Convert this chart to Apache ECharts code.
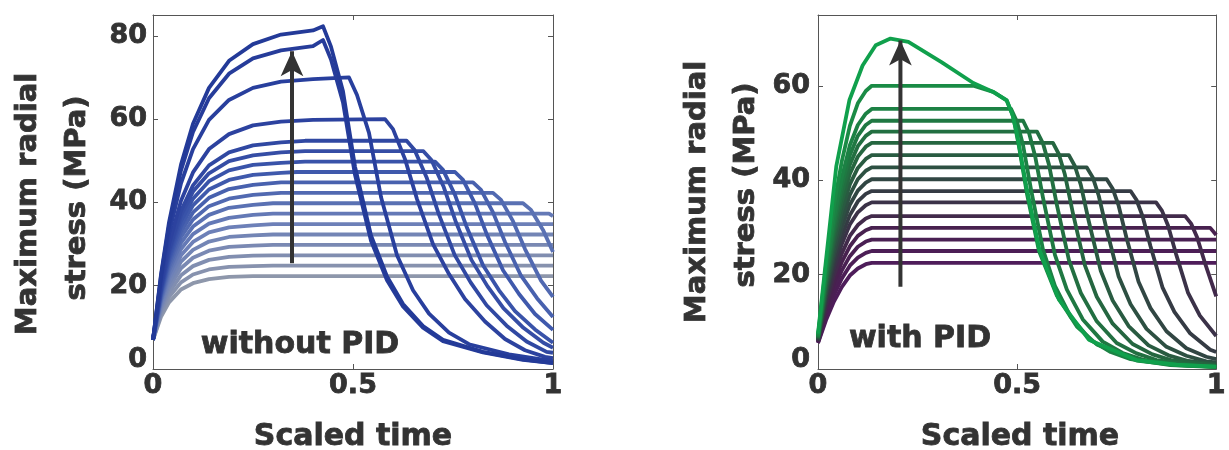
<!DOCTYPE html>
<html>
<head>
<meta charset="utf-8">
<title>Maximum radial stress</title>
<script src="https://cdn.jsdelivr.net/npm/echarts@6/dist/echarts.min.js"></script>
<style>
  html, body { margin: 0; padding: 0; background: #fff; }
  #chart { width: 1229px; height: 450px; }
</style>
</head>
<body>
<div id="chart"></div>
<script>
  // axis ranges (MPa / scaled time)
  const timeRange = [0, 1]
  const stressRangeWithout = [0, 85]
  const stressRangeWith = [0, 75]

  // without PID, lowest plateau first: [scaled time, stress]
  const withoutPid = [
    [[0,7],[.02,12.5],[.04,16.0],[.07,19.1],[.1,20.6],[.14,21.6],[.19,22.1],[.25,22.3],[1,22.3]],
    [[0,7],[.02,13.2],[.04,17.3],[.07,20.8],[.1,22.7],[.14,23.9],[.19,24.5],[.25,24.7],[.3,24.8],[1,24.8]],
    [[0,7],[.02,13.9],[.04,18.4],[.07,22.5],[.1,24.7],[.14,26.2],[.19,26.9],[.25,27.2],[.3,27.3],[1,27.3]],
    [[0,7],[.02,14.5],[.04,19.6],[.07,24.2],[.1,26.7],[.14,28.4],[.19,29.3],[.25,29.6],[.3,29.8],[1,29.8]],
    [[0,7],[.02,15.1],[.04,20.6],[.07,25.8],[.1,28.6],[.14,30.6],[.19,31.7],[.25,32.1],[.3,32.3],[1,32.3]],
    [[0,7],[.02,15.7],[.04,21.7],[.07,27.3],[.1,30.5],[.14,32.8],[.19,34.0],[.25,34.5],[.3,34.8],[1,34.8]],
    [[0,7],[.02,16.2],[.04,22.6],[.07,28.8],[.1,32.4],[.14,34.9],[.19,36.3],[.25,37.0],[.3,37.3],[.99,37.3],[1,36.7]],
    [[0,7],[.02,16.7],[.04,23.6],[.07,30.3],[.1,34.2],[.14,37.0],[.19,38.7],[.25,39.4],[.3,39.8],[.925,39.8],[.945,38.2],[.975,33.4],[1,28.1]],
    [[0,7],[.02,17.2],[.04,24.5],[.07,31.7],[.1,35.9],[.14,39.1],[.19,40.9],[.25,41.8],[.32,42.3],[.85,42.3],[.87,40.6],[.9,35.5],[.93,28.8],[.97,21.2],[1,17.3]],
    [[0,7],[.02,17.7],[.04,25.4],[.07,33.0],[.1,37.6],[.14,41.1],[.19,43.2],[.25,44.2],[.32,44.8],[.8,44.8],[.82,43.0],[.85,37.6],[.88,30.5],[.92,22.4],[.96,17.0],[1,12.5]],
    [[0,7],[.02,18.2],[.04,26.2],[.07,34.3],[.1,39.3],[.14,43.1],[.19,45.4],[.25,46.6],[.32,47.1],[.36,47.3],[.755,47.3],[.775,45.4],[.805,39.7],[.835,32.2],[.875,23.7],[.915,18.0],[.955,13.2],[1,9.4]],
    [[0,7],[.02,18.6],[.04,27.0],[.07,35.6],[.1,40.9],[.14,45.1],[.19,47.7],[.25,49.0],[.32,49.5],[.38,49.8],[.705,49.8],[.725,47.8],[.755,41.8],[.785,33.9],[.825,24.9],[.865,18.9],[.905,13.9],[.955,9.5],[1,6.3]],
    [[0,7],[.02,19.0],[.04,27.8],[.07,36.9],[.1,42.6],[.14,47.0],[.19,49.9],[.25,51.3],[.32,52.0],[.38,52.3],[.676,52.3],[.696,50.2],[.726,43.9],[.756,35.6],[.796,26.2],[.836,19.9],[.876,14.6],[.926,9.9],[.976,6.3],[1,5.1]],
    [[0,7],[.02,19.4],[.04,28.5],[.07,38.0],[.1,44.1],[.14,48.9],[.19,52.0],[.25,53.7],[.32,54.4],[.38,54.8],[.634,54.8],[.654,52.6],[.684,46.0],[.714,37.3],[.754,27.4],[.794,20.8],[.834,15.3],[.884,10.4],[.934,6.6],[.984,4.1],[1,3.9]],
    [[0,7],[.02,20.1],[.04,30.0],[.07,40.4],[.1,47.2],[.14,52.8],[.19,56.4],[.25,58.5],[.32,59.4],[.4,59.8],[.58,60],[.6,57.6],[.63,50.4],[.66,40.8],[.7,30.0],[.74,22.8],[.78,16.8],[.83,11.4],[.88,7.2],[.93,4.5],[.98,2.9],[1,2.6]],
    [[0,7],[.02,21.4],[.04,32.5],[.07,44.6],[.1,52.8],[.14,59.8],[.19,64.6],[.25,67.5],[.32,69.0],[.4,69.6],[.49,70],[.51,65.8],[.54,56.7],[.57,41.3],[.61,27.3],[.65,18.9],[.69,13.3],[.74,8.75],[.79,5.95],[.89,3.5],[1,1.9]],
    [[0,7],[.02,22.3],[.04,34.3],[.07,47.7],[.1,56.9],[.14,65.0],[.19,70.9],[.25,74.6],[.32,76.5],[.4,77.5],[.425,79],[.445,74.3],[.475,64],[.505,46.6],[.545,30.8],[.585,21.3],[.625,15.0],[.675,9.9],[.725,6.7],[.825,4.0],[.925,2.2],[1,1.4]],
    [[0,7],[.02,22.7],[.04,35.2],[.07,49.1],[.1,58.9],[.14,67.5],[.19,74.0],[.25,78.0],[.32,80.3],[.4,81.3],[.425,82.3],[.445,77.4],[.475,66.7],[.505,48.6],[.545,32.1],[.585,22.2],[.625,15.6],[.675,10.3],[.725,7.0],[.825,4.1],[.925,2.3],[1,1.4]]
  ]

  // with PID, lowest plateau first
  const withPid = [
    [[0,5.5],[.02,10.3],[.04,14.3],[.06,17.4],[.08,19.8],[.1,21.3],[.12,22.2],[.135,22.5],[1,22.5]],
    [[0,5.6],[.02,11.0],[.04,15.7],[.06,19.2],[.08,21.9],[.1,23.6],[.12,24.6],[.135,25.0],[1,25.0]],
    [[0,5.7],[.02,11.8],[.04,17.0],[.06,20.9],[.08,23.9],[.1,25.9],[.12,27.0],[.135,27.4],[1,27.4]],
    [[0,5.8],[.02,12.5],[.04,18.3],[.06,22.7],[.08,26.0],[.1,28.2],[.12,29.4],[.135,29.9],[.985,29.9],[1,28.4]],
    [[0,5.9],[.02,13.3],[.04,19.7],[.06,24.5],[.08,28.2],[.1,30.5],[.12,31.9],[.135,32.4],[.922,32.4],[.937,30.8],[.952,27.9],[.972,22.4],[1,15.4]],
    [[0,6.0],[.02,14.2],[.04,21.2],[.06,26.5],[.08,30.6],[.1,33.2],[.12,34.7],[.135,35.3],[.849,35.3],[.864,33.5],[.879,30.4],[.899,24.4],[.929,16.2],[.959,11.3],[1,7.0]],
    [[0,6.1],[.02,15.0],[.04,22.5],[.06,28.2],[.08,32.6],[.1,35.5],[.12,37.1],[.135,37.7],[.785,37.7],[.8,35.8],[.815,32.4],[.835,26.0],[.865,17.3],[.895,12.1],[.935,7.5],[.985,4.1],[1,3.6]],
    [[0,6.2],[.02,15.7],[.04,23.9],[.06,30.0],[.08,34.8],[.1,37.8],[.12,39.5],[.135,40.2],[.725,40.2],[.74,38.2],[.755,34.6],[.775,27.7],[.805,18.5],[.835,12.9],[.875,8.0],[.925,4.4],[.975,2.6],[1,2.1]],
    [[0,6.35],[.02,16.5],[.04,25.2],[.06,31.8],[.08,36.9],[.1,40.2],[.12,42.0],[.135,42.7],[.675,42.7],[.69,40.6],[.705,36.7],[.725,29.5],[.755,19.6],[.785,13.7],[.825,8.5],[.875,4.7],[.925,2.8],[.975,1.6],[1,1.4]],
    [[0,6.45],[.02,17.3],[.04,26.7],[.06,33.6],[.08,39.1],[.1,42.6],[.12,44.5],[.135,45.3],[.63,45.3],[.645,43.0],[.66,39.0],[.68,31.3],[.71,20.8],[.74,14.5],[.78,9.1],[.83,5.0],[.88,2.9],[.93,1.7],[1,1.0]],
    [[0,6.55],[.02,18.1],[.04,28.1],[.06,35.5],[.08,41.3],[.1,45.0],[.12,47.1],[.135,47.9],[.59,47.9],[.605,45.5],[.62,41.2],[.64,33.1],[.67,22.0],[.7,15.3],[.74,9.6],[.79,5.3],[.84,3.1],[.89,1.8],[1,.7]],
    [[0,6.65],[.02,18.9],[.04,29.4],[.06,37.2],[.08,43.3],[.1,47.2],[.12,49.4],[.135,50.3],[.55,50.3],[.565,47.8],[.58,43.3],[.6,34.7],[.63,23.1],[.66,16.1],[.7,10.1],[.75,5.5],[.8,3.3],[.85,1.9],[.95,.75],[1,.5]],
    [[0,6.75],[.02,19.6],[.04,30.6],[.06,38.9],[.08,45.3],[.1,49.4],[.12,51.7],[.135,52.6],[.515,52.6],[.53,50.0],[.545,45.2],[.565,36.3],[.595,24.2],[.625,16.8],[.665,10.5],[.715,5.8],[.765,3.4],[.815,2.0],[.915,.8],[1,.45]],
    [[0,6.9],[.02,20.4],[.04,32.0],[.06,40.6],[.08,47.4],[.1,51.7],[.12,54.1],[.135,55.1],[.485,55.1],[.5,52.3],[.515,47.4],[.535,38.0],[.565,25.3],[.595,17.6],[.635,11.0],[.685,6.1],[.735,3.6],[.785,2.1],[.885,.83],[1,.4]],
    [[0,7.1],[.02,21.9],[.04,34.6],[.06,44.1],[.08,51.5],[.1,56.3],[.12,58.9],[.135,60],[.39,60],[.44,58.7],[.474,56.9],[.49,53.5],[.505,47],[.525,37],[.555,25],[.6,15.5],[.65,9],[.7,5.2],[.8,1.8],[.9,.8],[1,.45]],
    [[0,7.5],[.02,23],[.046,43],[.079,57],[.112,64.3],[.145,68.6],[.182,70],[.227,69.3],[.31,65],[.39,60.6],[.44,58.7],[.474,56.9],[.488,54],[.499,50.1],[.523,38.8],[.556,25.3],[.605,14.7],[.68,6.2],[.8,1.9],[.9,.9],[1,.5]]
  ]

  // arrows: tail, shaft end (head sits on top)
  const arrowWithout = [[0.3475, 25.4], [0.3475, 76.3]]
  const arrowWith = [[0.207, 17.4], [0.207, 69.6]]

  const FONT = "'DejaVu Sans', sans-serif"
  const TXT = '#333333'
  const AXIS = '#555555'

  function hexToRgb(h) {
    return [1, 3, 5].map(i => parseInt(h.slice(i, i + 2), 16))
  }

  function pickColor(stops, t) {
    for (let i = 1; i < stops.length; i++) {
      if (t <= stops[i][0]) {
        const a = hexToRgb(stops[i - 1][1]), b = hexToRgb(stops[i][1])
        const k = (t - stops[i - 1][0]) / (stops[i][0] - stops[i - 1][0])
        const c = a.map((v, j) => Math.round(v + (b[j] - v) * k))
        return 'rgb(' + c.join(',') + ')'
      }
    }
    return stops[stops.length - 1][1]
  }

  const blueStops = [[0, '#8e97ab'], [0.3, '#6c80b8'], [0.6, '#3d57ab'], [0.85, '#2a409e'], [1, '#233a98']]
  const greenStops = [[0, '#4e1d5a'], [0.2, '#48214f'], [0.4, '#353b44'], [0.7, '#236b40'], [0.93, '#1a8a45'], [1, '#10a04c']]

  // a thin outline of the same colour makes the bold face a bit heavier
  const labelStyle = {fontSize: 27, fontWeight: 'bold', fontFamily: FONT, color: TXT, textBorderColor: TXT, textBorderWidth: 0.8}

  function xAxes(g) {
    const base = {
      gridIndex: g, type: 'value', min: timeRange[0], max: timeRange[1], interval: 0.5,
      axisLine: {show: true, onZero: false, lineStyle: {color: AXIS, width: 1}},
      axisTick: {show: true, inside: true, length: 5, lineStyle: {color: AXIS}},
      splitLine: {show: false}
    }
    return [
      Object.assign({}, base, {position: 'bottom', axisLabel: Object.assign({margin: 3}, labelStyle)}),
      Object.assign({}, base, {position: 'top', axisLabel: {show: false}})
    ]
  }

  function yAxes(g, range, margin) {
    const base = {
      gridIndex: g, type: 'value', min: range[0], max: range[1], interval: 20,
      axisLine: {show: true, onZero: false, lineStyle: {color: AXIS, width: 1}},
      axisTick: {show: true, inside: true, length: 5, lineStyle: {color: AXIS}},
      splitLine: {show: false}
    }
    return [
      Object.assign({}, base, {
        position: 'left',
        // the zero label sits a little above its tick, clear of the x labels
        axisLabel: Object.assign({
          margin: margin, showMaxLabel: false,
          formatter: v => v === 0 ? '{z|0}' : String(v),
          rich: {z: Object.assign({padding: [0, 0, 18, 0]}, labelStyle)}
        }, labelStyle)
      }),
      Object.assign({}, base, {position: 'right', axisLabel: {show: false}})
    ]
  }

  function curveSeries(curves, stops, xi, yi) {
    return curves.map((c, i) => ({
      type: 'line', xAxisIndex: xi, yAxisIndex: yi, data: c,
      showSymbol: false, silent: true,
      lineStyle: {width: 3.8, color: pickColor(stops, i / (curves.length - 1)), join: 'round'}
    }))
  }

  function arrowSeries(points, xi, yi) {
    return {
      type: 'line', xAxisIndex: xi, yAxisIndex: yi, data: points, silent: true,
      symbol: (v, p) => p.dataIndex === points.length - 1 ? 'arrow' : 'none',
      symbolSize: [17, 25], showSymbol: true, z: 5,
      itemStyle: {color: '#333333'},
      lineStyle: {width: 4, color: '#333333'}
    }
  }

  function textEl(x, y, text, size, rotation) {
    return {
      type: 'text', x: x, y: y, rotation: rotation,
      style: {
        text: text, fill: TXT, font: 'bold ' + size + 'px ' + FONT,
        stroke: TXT, lineWidth: 0.8,
        align: 'center', verticalAlign: 'middle', textAlign: 'center', textVerticalAlign: 'middle'
      }
    }
  }

  const chart = echarts.init(document.getElementById('chart'))
  chart.setOption({
    animation: false,
    backgroundColor: '#ffffff',
    grid: [
      {left: 153, right: 676, top: 15, bottom: 81},
      {left: 818, right: 6, top: 15, bottom: 81}
    ],
    xAxis: xAxes(0).concat(xAxes(1)),
    yAxis: yAxes(0, stressRangeWithout, 6).concat(yAxes(1, stressRangeWith, 8)),
    series: curveSeries(withoutPid, blueStops, 0, 0)
      .concat([arrowSeries(arrowWithout, 0, 0)])
      .concat(curveSeries(withPid, greenStops, 2, 2))
      .concat([arrowSeries(arrowWith, 2, 2)]),
    graphic: [
      textEl(28, 204, 'Maximum radial', 29, Math.PI / 2),
      textEl(77, 198, 'stress (MPa)', 29, Math.PI / 2),
      textEl(697, 192, 'Maximum radial', 29, Math.PI / 2),
      textEl(746, 185, 'stress (MPa)', 29, Math.PI / 2),
      textEl(353, 437, 'Scaled time', 30, 0),
      textEl(1020, 437, 'Scaled time', 30, 0),
      textEl(300, 345, 'without PID', 30, 0),
      textEl(920, 339, 'with PID', 30, 0)
    ]
  })
</script>
</body>
</html>
